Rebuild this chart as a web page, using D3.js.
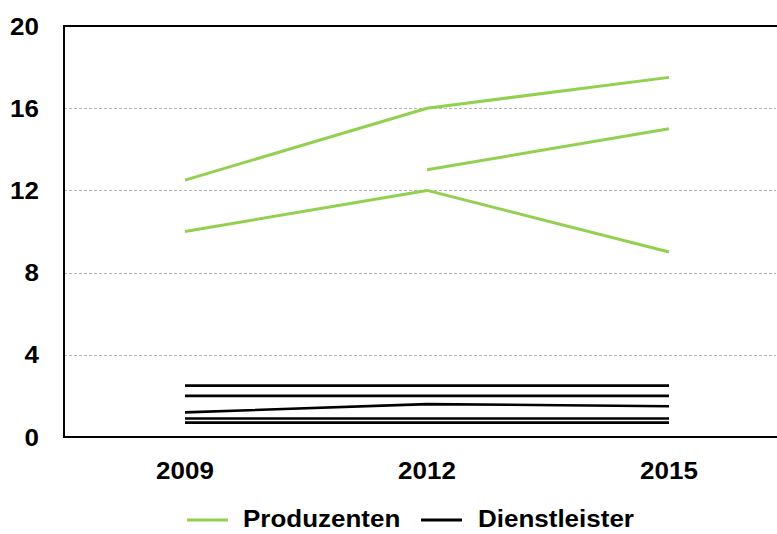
<!DOCTYPE html>
<html>
<head>
<meta charset="utf-8">
<script src="https://cdn.jsdelivr.net/npm/d3@7"></script>
<style>
  html, body { margin: 0; padding: 0; background: #fff; }
  svg { display: block; }
  text { font-family: "Liberation Sans", Arial, sans-serif; font-weight: bold; fill: #000; }
</style>
</head>
<body>
<svg id="chart" width="777" height="534"></svg>
<script>
// Survey years on the x axis
const years = ["2009", "2012", "2015"];
const yTicks = [0, 4, 8, 12, 16, 20];

// Producer series (green); null where a series has no value for that year
const produzentenA = [12.5, 16, 17.5];
const produzentenB = [null, 13, 15];
const produzentenC = [10, 12, 9];

// Service-provider series (black)
const dienstleisterA = [2.5, 2.5, 2.5];
const dienstleisterB = [2.0, 2.0, 2.0];
const dienstleisterC = [1.2, 1.6, 1.5];
const dienstleisterD = [0.9, 0.9, 0.9];
const dienstleisterE = [0.7, 0.7, 0.7];

const legendLabels = ["Produzenten", "Dienstleister"];
const green = "#92D050";
const black = "#000000";
const stretch = "scale(1.13,1)";

const svg = d3.select("#chart");
const plotLeft = 64, plotTop = 26, plotBottom = 437, plotRight = 790;

const x = d3.scaleBand().domain(years).range([plotLeft, plotRight]).padding(0);
const y = d3.scaleLinear().domain([0, 20]).range([plotBottom, plotTop]);
const cx = d => x(d) + x.bandwidth() / 2;

// dashed horizontal grid lines
svg.append("g")
  .selectAll("line")
  .data(yTicks.filter(t => t > 0 && t < 20))
  .join("line")
  .attr("x1", plotLeft).attr("x2", 776)
  .attr("y1", d => Math.round(y(d)) + 0.5).attr("y2", d => Math.round(y(d)) + 0.5)
  .attr("stroke", "#b5b5b5").attr("stroke-width", 1)
  .attr("stroke-dasharray", "3,2");

// plot frame
svg.append("rect")
  .attr("x", plotLeft).attr("y", plotTop)
  .attr("width", plotRight - plotLeft).attr("height", plotBottom - plotTop)
  .attr("fill", "none").attr("stroke", "#000").attr("stroke-width", 2);

// y axis labels
const yAxis = svg.append("g")
  .attr("transform", `translate(${plotLeft},0)`)
  .call(d3.axisLeft(y).tickValues(yTicks).tickSize(0).tickFormat(d3.format("d")));
yAxis.select(".domain").remove();
yAxis.selectAll("text")
  .attr("x", 0).attr("dy", "0.35em")
  .attr("transform", "translate(-25,0) " + stretch)
  .style("font-size", "23px").style("font-family", "'Liberation Sans', Arial, sans-serif")
  .style("font-weight", "bold");

// x axis labels
const xAxis = svg.append("g")
  .attr("transform", `translate(0,${plotBottom})`)
  .call(d3.axisBottom(x).tickSize(0));
xAxis.select(".domain").remove();
xAxis.selectAll("text")
  .attr("y", 0).attr("dy", 0)
  .attr("transform", "translate(0,42) " + stretch)
  .style("font-size", "23px").style("font-family", "'Liberation Sans', Arial, sans-serif")
  .style("font-weight", "bold");

// series lines
const line = d3.line()
  .defined(d => d.v !== null)
  .x(d => cx(d.year))
  .y(d => y(d.v));

const seriesList = [
  { values: produzentenA, color: green },
  { values: produzentenB, color: green },
  { values: produzentenC, color: green },
  { values: dienstleisterA, color: black },
  { values: dienstleisterB, color: black },
  { values: dienstleisterC, color: black },
  { values: dienstleisterD, color: black },
  { values: dienstleisterE, color: black }
];

svg.append("g")
  .selectAll("path")
  .data(seriesList)
  .join("path")
  .attr("d", s => line(years.map((yr, i) => ({ year: yr, v: s.values[i] }))))
  .attr("fill", "none")
  .attr("stroke", s => s.color)
  .attr("stroke-width", s => s.color === green ? 3 : 2.6)
  .attr("stroke-linejoin", "round");

// legend
const legend = [
  { label: legendLabels[0], color: green, x0: 187, tx: 243 },
  { label: legendLabels[1], color: black, x0: 421, tx: 478 }
];
const lg = svg.append("g").selectAll("g").data(legend).join("g");
lg.append("line")
  .attr("x1", d => d.x0).attr("x2", d => d.x0 + 41)
  .attr("y1", 520).attr("y2", 520)
  .attr("stroke", d => d.color).attr("stroke-width", 3);
lg.append("text")
  .attr("transform", d => `translate(${d.tx},527) ${stretch}`)
  .style("font-size", "23px")
  .text(d => d.label);
</script>
</body>
</html>
